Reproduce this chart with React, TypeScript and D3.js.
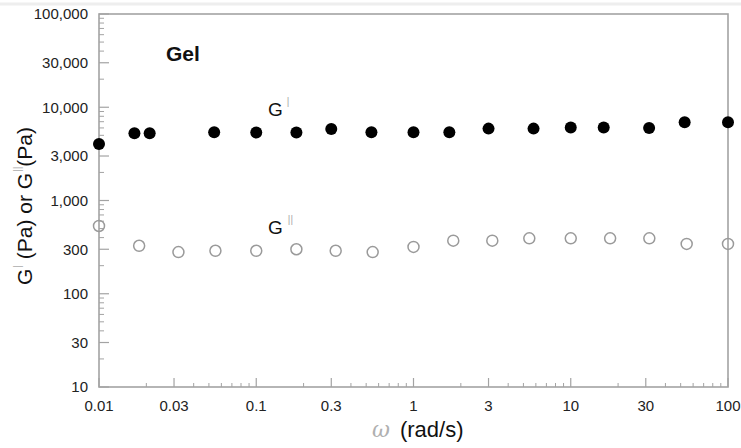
import React from 'react';
import * as d3 from 'd3';

// frequency sweep, Gel sample
const gPrimeW = [0.01, 0.0168, 0.021, 0.054, 0.1, 0.18, 0.3, 0.54, 1, 1.69, 3, 5.8, 10, 16.2, 31.5, 53, 100];
const gPrime = [4040, 5250, 5250, 5400, 5350, 5350, 5850, 5400, 5400, 5400, 5900, 5900, 6050, 6050, 6000, 6900, 6900];
const gDoubleW = [0.01, 0.018, 0.032, 0.055, 0.1, 0.18, 0.32, 0.55, 1, 1.79, 3.17, 5.45, 10, 17.8, 31.6, 54.6, 100];
const gDouble = [533, 327, 280, 289, 289, 300, 289, 280, 318, 371, 371, 393, 393, 393, 393, 342, 342];

const yTicks = [10, 30, 100, 300, 1000, 3000, 10000, 30000, 100000];
const yTickLabels = ['10', '30', '100', '300', '1,000', '3,000', '10,000', '30,000', '100,000'];
const xTicks = [0.01, 0.03, 0.1, 0.3, 1, 3, 10, 30, 100];
const xTickLabels = ['0.01', '0.03', '0.1', '0.3', '1', '3', '10', '30', '100'];

const W = 741;
const H = 448;
const left = 99, right = 728, top = 14, bottom = 387;

export default function App() {
  const x = d3.scaleLog().domain([0.01, 100]).range([left, right]);
  const y = d3.scaleLog().domain([10, 100000]).range([bottom, top]);

  const isMajor = (v: number, list: number[]) => list.some(t => Math.abs(t - v) / t < 1e-6);
  const yMinor = y.ticks().filter(v => !isMajor(v, yTicks));
  const xMinor = x.ticks().filter(v => !isMajor(v, xTicks));

  const axisColor = '#a3a3a3';
  const font = 'Arial, "Liberation Sans", sans-serif';

  return (
    <svg width={W} height={H} style={{ position: 'absolute', left: 0, top: 0, background: '#fff' }} fontFamily={font}>
      <line x1={0} x2={W} y1={4} y2={4} stroke="#eeeeee" strokeWidth={3} />

      {/* y ticks */}
      {yTicks.map((t, i) => (
        <g key={'yt' + t}>
          <line x1={left} x2={left + 10} y1={y(t)} y2={y(t)} stroke={axisColor} strokeWidth={1.2} />
          <text x={88} y={y(t)} dy="0.35em" textAnchor="end" fontSize={15} fill="#222">{yTickLabels[i]}</text>
        </g>
      ))}
      {yMinor.map(t => (
        <line key={'ym' + t} x1={left} x2={left + 5} y1={y(t)} y2={y(t)} stroke={axisColor} strokeWidth={1} />
      ))}

      {/* x ticks */}
      {xTicks.map((t, i) => (
        <g key={'xt' + t}>
          <line x1={x(t)} x2={x(t)} y1={bottom} y2={bottom - 9} stroke={axisColor} strokeWidth={1.2} />
          <text x={x(t)} y={411} textAnchor="middle" fontSize={15} fill="#222">{xTickLabels[i]}</text>
        </g>
      ))}
      {xMinor.map(t => (
        <line key={'xm' + t} x1={x(t)} x2={x(t)} y1={bottom} y2={bottom - 4} stroke={axisColor} strokeWidth={1} />
      ))}

      {/* frame */}
      <rect x={left} y={top} width={right - left} height={bottom - top} fill="none" stroke={axisColor} strokeWidth={1.6} />

      {/* G'' open circles */}
      {gDouble.map((v, i) => (
        <circle key={'gd' + i} cx={x(gDoubleW[i])} cy={y(v)} r={5.5} fill="none" stroke="#9a9a9a" strokeWidth={1.5} />
      ))}
      {/* G' filled circles */}
      {gPrime.map((v, i) => (
        <circle key={'gp' + i} cx={x(gPrimeW[i])} cy={y(v)} r={6} fill="#000" />
      ))}

      <text x={166} y={61} fontSize={21} fontWeight="bold" fill="#111">Gel</text>

      <text x={268} y={116} fontSize={19} fill="#111">
        G<tspan dx={4} dy={-11} fontSize={10} fill="#aaa">|</tspan>
      </text>
      <text x={268} y={234} fontSize={19} fill="#111">
        G<tspan dx={5} dy={-11} fontSize={10} fill="#aaa">||</tspan>
      </text>

      <text transform={`translate(32,${206}) rotate(-90)`} textAnchor="middle" fontSize={21} fill="#111">
        G<tspan dx={1} dy={-11} fontSize={10} fill="#aaa">|</tspan><tspan dy={11}> (Pa) or G</tspan><tspan dx={1} dy={-11} fontSize={10} fill="#aaa">||</tspan><tspan dy={11}>(Pa)</tspan>
      </text>

      <text x={372} y={437} fontSize={22} fill="#111">
        <tspan fontFamily='"DejaVu Serif", serif' fontStyle="italic" fill="#b0b0b0" fontWeight={300}>ω</tspan><tspan dx={10}>(rad/s)</tspan>
      </text>
    </svg>
  );
}
